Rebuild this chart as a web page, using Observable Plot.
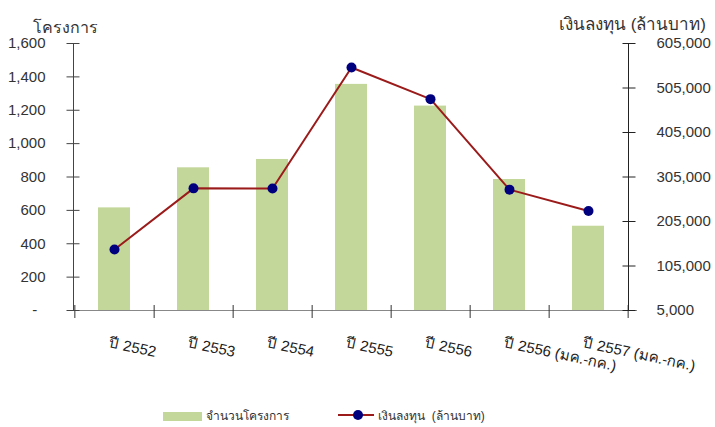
<!DOCTYPE html>
<html><head><meta charset="utf-8">
<script src="https://cdn.jsdelivr.net/npm/d3@7"></script>
<script src="https://cdn.jsdelivr.net/npm/@observablehq/plot@0.6"></script>
<style>
body{margin:0;background:#fff;font-family:"Liberation Sans","DejaVu Sans",sans-serif;}
#chart{width:715px;}
.legend{position:relative;height:32px;width:715px;font-size:12px;color:#333;}
.legend span{position:absolute;white-space:pre;line-height:14px;}
</style></head><body><div id="chart"></div>
<div class="legend">
 <div style="position:absolute;left:163px;top:17px;width:39px;height:9px;background:#c4d79b"></div>
 <span style="left:206px;top:14px">จำนวนโครงการ</span>
 <svg style="position:absolute;left:338px;top:14px" width="36" height="12"><line x1="0" x2="36" y1="6" y2="6" stroke="#9b1b1b" stroke-width="2"/><circle cx="20" cy="6" r="5" fill="#00007f"/></svg>
 <span style="left:378px;top:14px">เงินลงทุน  (ล้านบาท)</span>
</div>
<script>
const categories = ["ปี 2552","ปี 2553","ปี 2554","ปี 2555","ปี 2556","ปี 2556 (มค.-กค.)","ปี 2557 (มค.-กค.)"];
const projects = [615, 855, 905, 1355, 1225, 785, 505];
const investment = [142000, 279500, 279000, 551000, 480000, 276600, 228400];
const leftTicks = [0, 200, 400, 600, 800, 1000, 1200, 1400, 1600];
const rightTicks = [5000, 105000, 205000, 305000, 405000, 505000, 605000];

const data = categories.map((c, i) => ({cat: c, projects: projects[i], investment: investment[i]}));
const toLeft = d3.scaleLinear([5000, 605000], [0, 1600]);
const W = 715, ML = 73, MR = 87;
const step = (W - ML - MR) / categories.length;
const fmt = d3.format(",");

const chart = Plot.plot({
  width: W, height: 395,
  marginTop: 43, marginBottom: 85, marginLeft: ML, marginRight: MR,
  style: {fontFamily: '"Liberation Sans","DejaVu Sans",sans-serif', fontSize: "15px", color: "#333", background: "#fff"},
  x: {type: "band", domain: categories, paddingInner: 0.6, paddingOuter: 0.3, axis: null, label: null},
  y: {domain: [0, 1600], axis: null, label: null},
  marks: [
    Plot.barY(data, {x: "cat", y: "projects", fill: "#c4d79b"}),
    Plot.ruleY([0], {stroke: "#888", insetRight: -9}),
    Plot.axisX({label: null, tickSize: 13, dy: -5, dx: step / 2, tickFormat: () => "", stroke: "#333"}),
    Plot.axisX({label: null, ticks: [categories[0]], tickSize: 13, dy: -5, dx: -step / 2, tickFormat: () => "", stroke: "#333"}),
    Plot.axisX({label: null, tickSize: 0, tickPadding: 32, tickRotate: 12, textAnchor: "start", lineAnchor: "middle", dx: -5, fontSize: 15, fill: "#222"}),
    Plot.axisY({label: null, ticks: leftTicks, tickSize: 13, dx: 6.5, tickPadding: 21.5, stroke: "#444", fill: "#333",
      tickFormat: d => d === 0 ? "-\u2007" : fmt(d)}),
    Plot.axisY({label: null, anchor: "right", ticks: rightTicks.map(toLeft), tickSize: 13, dx: -6.5, tickPadding: 21.5, stroke: "#222", fill: "#333",
      tickFormat: v => fmt(Math.round(toLeft.invert(v)))}),
    Plot.frame({anchor: "left", stroke: "#444"}),
    Plot.frame({anchor: "right", stroke: "#222"}),
    Plot.line(data, {x: "cat", y: d => toLeft(d.investment), stroke: "#9b1b1b", strokeWidth: 2}),
    Plot.dot(data, {x: "cat", y: d => toLeft(d.investment), r: 5, fill: "#00007f"}),
    Plot.text(["โครงการ"], {text: d => d, frameAnchor: "top-left", textAnchor: "middle", dx: -8, dy: -22, fontSize: 16, fill: "#333"}),
    Plot.text(["เงินลงทุน (ล้านบาท)"], {text: d => d, frameAnchor: "top-right", textAnchor: "middle", dx: 4, dy: -26, fontSize: 17, fill: "#333"})
  ]
});
document.getElementById("chart").appendChild(chart);
</script>
</body></html>
